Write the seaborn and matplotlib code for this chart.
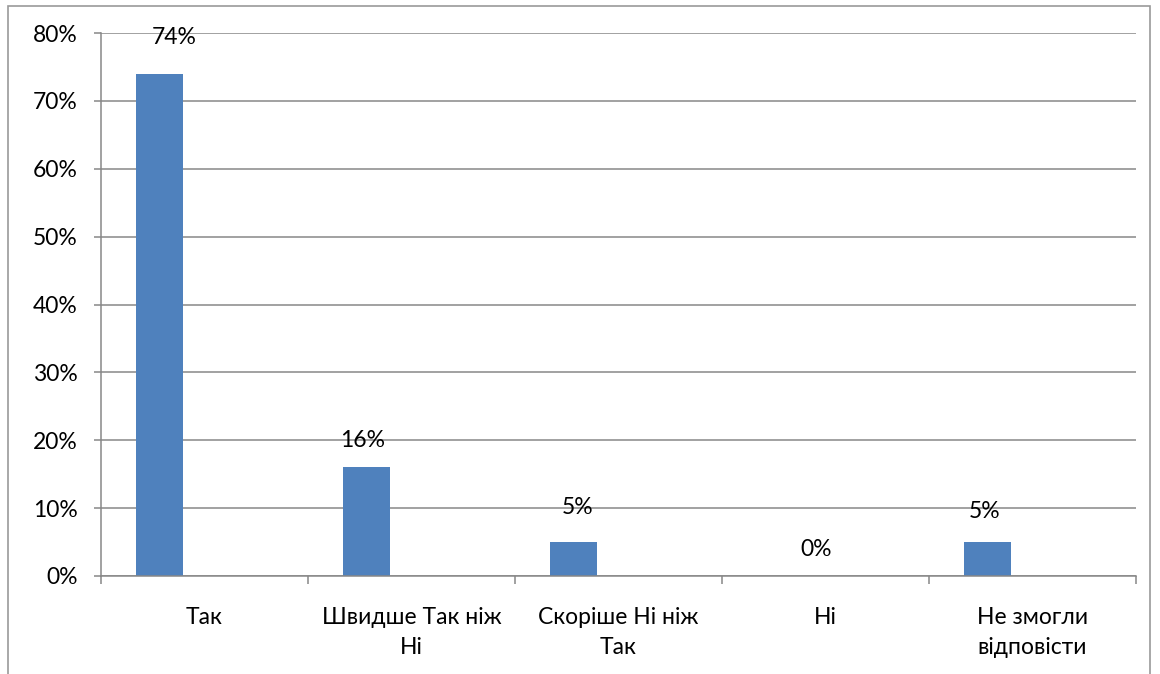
import numpy as np
import matplotlib.pyplot as plt
import seaborn as sns
import pandas as pd
from matplotlib.patches import Rectangle
from matplotlib.ticker import PercentFormatter, FixedLocator

sns.set_theme(style='white')
plt.rcParams['font.family'] = ['Lato', 'DejaVu Sans']

#### DATA ####
categories = ['Так', 'Швидше Так ніж\nНі', 'Скоріше Ні ніж\nТак', 'Ні', 'Не змогли\nвідповісти']
shares = [0.74, 0.16, 0.05, 0.0, 0.05]
value_labels = ['74%', '16%', '5%', '0%', '5%']

# label nudges (pixels) to match hand-placed labels of the original
label_dx = [15, -4, 4, 36, -3]
label_dy = [36, 27, 35, 26, 31]

df = pd.DataFrame({'cat': categories, 'share': shares})

grey = '#878787'
bar_col = '#4F81BD'
fs = 16.5

fig = plt.figure(figsize=(11.6, 6.74), dpi=100)
ax = fig.add_axes([101/1160, 1 - 576/674, (1136 - 101)/1160, (576 - 33)/674])

sns.barplot(data=df, x='cat', y='share', color=bar_col, width=0.227,
            saturation=1, ax=ax)

# bars sit left of the category centre
for p in ax.patches:
    p.set_x(p.get_x() - 0.217)
    p.set_edgecolor('none')

ax.set_xlim(-0.5, len(categories) - 0.5)
ax.set_ylim(0, 0.8)
ax.set_yticks(np.arange(0, 0.81, 0.1))
ax.yaxis.set_major_formatter(PercentFormatter(1.0, decimals=0))
ax.yaxis.grid(True, color=grey, linewidth=1.1)
ax.set_axisbelow(True)

ax.set_xlabel('')
ax.set_ylabel('')

for s in ['top', 'right']:
    ax.spines[s].set_visible(False)
for s in ['left', 'bottom']:
    ax.spines[s].set_color(grey)
    ax.spines[s].set_linewidth(1.1)

ax.tick_params(axis='y', left=True, length=5, width=1.1, color=grey,
               labelsize=fs, pad=12, labelcolor='black')
ax.tick_params(axis='x', bottom=False, labelsize=fs, pad=16, labelcolor='black')
ax.xaxis.set_minor_locator(FixedLocator(np.arange(-0.5, len(categories), 1.0)))
ax.tick_params(axis='x', which='minor', bottom=True, length=6, width=1.1, color=grey)
for t in ax.get_xticklabels():
    t.set_linespacing(1.55)
    t.set_va('top')

for p, lab, dx, dy in zip(ax.patches, value_labels, label_dx, label_dy):
    ax.annotate(lab, (p.get_x() + p.get_width() / 2, p.get_height()),
                xytext=(dx, dy), textcoords='offset pixels',
                ha='center', va='center', fontsize=fs, color='black')

fig.add_artist(Rectangle((8/1160, -0.1), (1150 - 8)/1160, 1.1 - 6/674,
                         transform=fig.transFigure, fill=False,
                         edgecolor='#9a9a9a', linewidth=1.2))

fig.savefig('out.png', dpi=100)
